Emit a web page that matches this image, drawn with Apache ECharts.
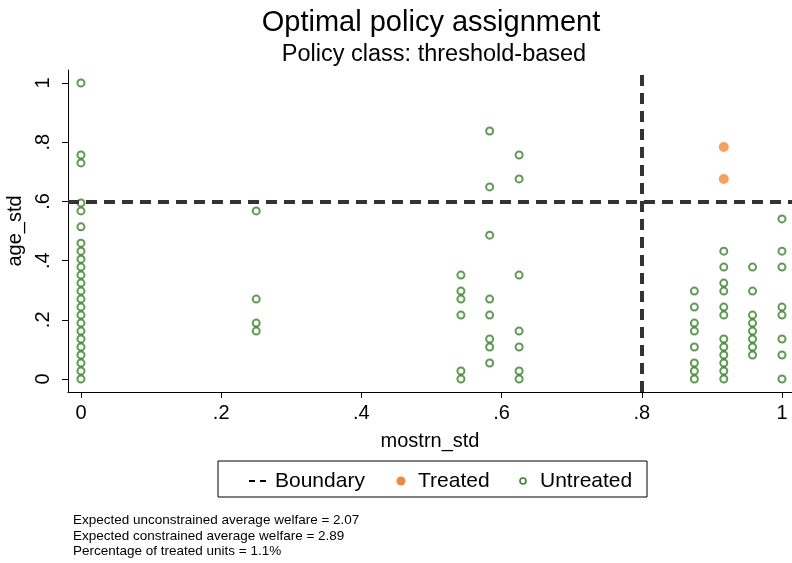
<!DOCTYPE html>
<html>
<head>
<meta charset="utf-8">
<script src="https://cdn.jsdelivr.net/npm/echarts@6/dist/echarts.min.js"></script>
<style>
  html, body { margin: 0; padding: 0; background: #fff; }
  #chart { width: 792px; height: 563px; }
</style>
</head>
<body>
<div id="chart"></div>
<script>
// mostrn_std columns and the age_std values
var mostrnCols = [0, 0.25, 0.542, 0.583, 0.625, 0.875, 0.917, 0.958, 1];
var untreatedAge = [
  [0, 0.027, 0.054, 0.081, 0.108, 0.135, 0.162, 0.189, 0.216, 0.243, 0.270, 0.297,
   0.324, 0.351, 0.378, 0.405, 0.432, 0.459, 0.514, 0.568, 0.595, 0.730, 0.757, 1],
  [0.162, 0.189, 0.270, 0.568],
  [0, 0.027, 0.216, 0.270, 0.297, 0.351],
  [0.054, 0.108, 0.135, 0.216, 0.270, 0.486, 0.649, 0.838],
  [0, 0.027, 0.108, 0.162, 0.351, 0.676, 0.757],
  [0, 0.027, 0.054, 0.108, 0.162, 0.189, 0.243, 0.297],
  [0, 0.027, 0.054, 0.081, 0.108, 0.135, 0.216, 0.243, 0.297, 0.324, 0.378, 0.432],
  [0.081, 0.108, 0.135, 0.162, 0.189, 0.216, 0.297, 0.378],
  [0, 0.081, 0.135, 0.216, 0.243, 0.378, 0.432, 0.541]
];
var treatedX = [0.917, 0.917];
var treatedAge = [0.784, 0.676];

var boundaryX = 0.8;
var boundaryY = 0.6;
var tickValues = [0, 0.2, 0.4, 0.6, 0.8, 1];
var tickLabels = ['0', '.2', '.4', '.6', '.8', '1'];
var footLines = [
  'Expected unconstrained average welfare = 2.07',
  'Expected constrained average welfare = 2.89',
  'Percentage of treated units = 1.1%'
];

var green = '#378127';
var orange = '#f0893a';
var dark = '#333333';
var font = '"Liberation Sans", Arial, Helvetica, sans-serif';

var untreated = [];
mostrnCols.forEach(function (x, i) {
  untreatedAge[i].forEach(function (y) { untreated.push([x, y]); });
});
var treated = treatedX.map(function (x, i) { return [x, treatedAge[i]]; });

function fmtTick(v) {
  for (var i = 0; i < tickValues.length; i++) {
    if (Math.abs(v - tickValues[i]) < 1e-6) return tickLabels[i];
  }
  return '';
}

var myChart = echarts.init(document.getElementById('chart'));
var option = {
  backgroundColor: '#fff',
  animation: false,
  title: [
    { text: 'Optimal policy assignment', left: 426, top: 3, textAlign: 'center',
      textStyle: { fontFamily: font, fontSize: 29, fontWeight: 'normal', color: '#000' } },
    { text: 'Policy class: threshold-based', left: 429, top: 38, textAlign: 'center',
      textStyle: { fontFamily: font, fontSize: 23.5, fontWeight: 'normal', color: '#000' } }
  ],
  grid: { left: 68, right: 0, top: 70, bottom: 171, containLabel: false, outerBoundsMode: 'none' },
  xAxis: {
    type: 'value', min: -0.0185, max: 1.0143,
    name: 'mostrn_std', nameLocation: 'middle', nameGap: 39,
    nameTextStyle: { fontFamily: font, fontSize: 20, color: '#000' },
    axisLine: { show: true, onZero: false, lineStyle: { color: '#000', width: 1 } },
    axisTick: { show: true, customValues: tickValues, length: 6, lineStyle: { color: '#000' } },
    axisLabel: { customValues: tickValues, formatter: fmtTick, margin: 11,
      fontFamily: font, fontSize: 20, color: '#000' },
    splitLine: { show: false }
  },
  yAxis: {
    type: 'value', min: -0.0439, max: 1.044,
    name: 'age_std', nameLocation: 'middle', nameGap: 41,
    nameTextStyle: { fontFamily: font, fontSize: 20, color: '#000' },
    axisLine: { show: true, onZero: false, lineStyle: { color: '#000', width: 1 } },
    axisTick: { show: true, customValues: tickValues, length: 6, lineStyle: { color: '#000' } },
    axisLabel: { customValues: tickValues, formatter: fmtTick, rotate: 90, margin: 15,
      fontFamily: font, fontSize: 20, color: '#000' },
    splitLine: { show: false }
  },
  series: [
    {
      name: 'Untreated', type: 'scatter', data: untreated,
      symbol: 'circle', symbolSize: 7,
      itemStyle: { color: 'rgba(0,0,0,0)', borderColor: green, borderWidth: 2 },
      z: 3
    },
    {
      name: 'Treated', type: 'scatter', data: treated,
      symbol: 'circle', symbolSize: 10,
      itemStyle: { color: orange },
      z: 3
    },
    {
      name: 'Boundary', type: 'line', data: [],
      markLine: {
        silent: true, symbol: 'none', label: { show: false },
        lineStyle: { color: dark, width: 4, type: [11, 7] },
        data: [{ xAxis: boundaryX }, { yAxis: boundaryY }]
      },
      z: 2
    }
  ],
  graphic: [
    { type: 'rect', shape: { x: 218, y: 461, width: 429, height: 36 },
      style: { fill: '#fff', stroke: '#000', lineWidth: 1 } },
    { type: 'rect', shape: { x: 249, y: 480, width: 6, height: 2 }, style: { fill: '#000' } },
    { type: 'rect', shape: { x: 260, y: 480, width: 6, height: 2 }, style: { fill: '#000' } },
    { type: 'text', x: 275, y: 481,
      style: { text: 'Boundary', fontFamily: font, fontSize: 21, fill: '#000', textVerticalAlign: 'middle' } },
    { type: 'circle', shape: { cx: 401, cy: 481, r: 4.5 }, style: { fill: orange } },
    { type: 'text', x: 418, y: 481,
      style: { text: 'Treated', fontFamily: font, fontSize: 21, fill: '#000', textVerticalAlign: 'middle' } },
    { type: 'circle', shape: { cx: 523, cy: 481, r: 3 }, style: { fill: 'none', stroke: green, lineWidth: 1.6 } },
    { type: 'text', x: 540, y: 481,
      style: { text: 'Untreated', fontFamily: font, fontSize: 21, fill: '#000', textVerticalAlign: 'middle' } },
    { type: 'text', x: 73, y: 520,
      style: { text: footLines[0], fontFamily: font, fontSize: 13.5, fill: '#000', textVerticalAlign: 'middle' } },
    { type: 'text', x: 73, y: 536,
      style: { text: footLines[1], fontFamily: font, fontSize: 13.5, fill: '#000', textVerticalAlign: 'middle' } },
    { type: 'text', x: 73, y: 551,
      style: { text: footLines[2], fontFamily: font, fontSize: 13.5, fill: '#000', textVerticalAlign: 'middle' } }
  ]
};
myChart.setOption(option);
</script>
</body>
</html>
